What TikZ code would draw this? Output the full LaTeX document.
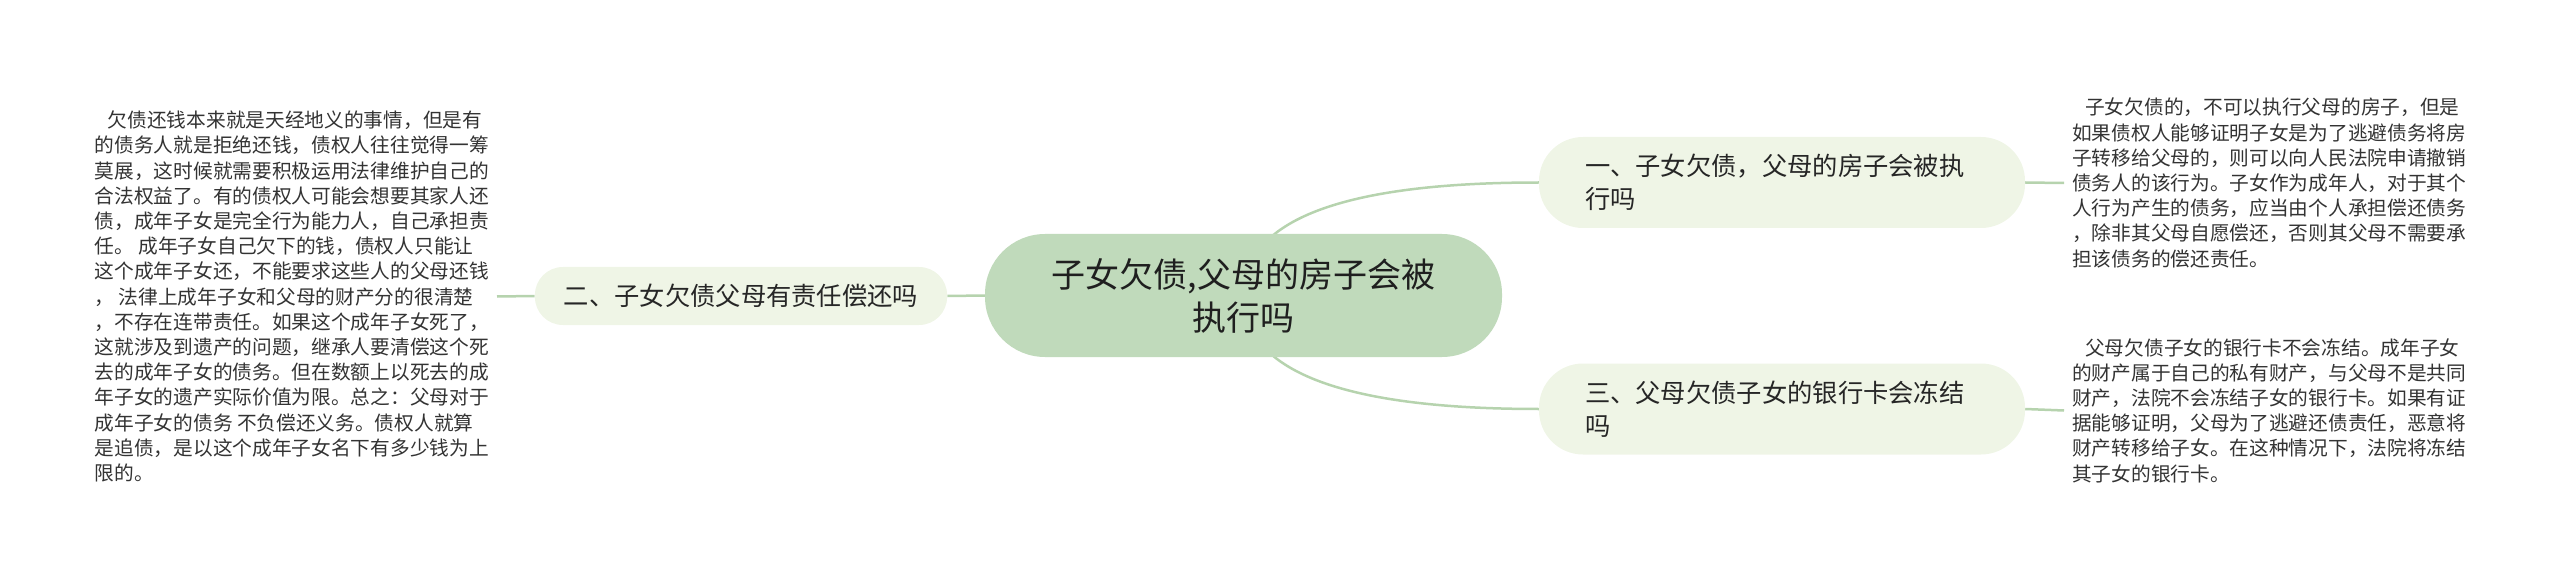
\documentclass[tikz,border=0pt]{standalone}
\usepackage{fontspec}
\setmainfont{Noto Sans CJK SC}
\usetikzlibrary{backgrounds}

\definecolor{rootgreen}{HTML}{C0DABB}
\definecolor{branchgreen}{HTML}{EFF5E6}
\definecolor{linkgreen}{HTML}{B6D3AE}
\definecolor{inkgray}{HTML}{333333}

\tikzset{
    rootbox/.style={fill=rootgreen, rounded corners=60pt, minimum width=517pt, minimum height=123pt,
        align=center, text=black!88, font=\fontsize{34}{43}\selectfont},
    branchbox/.style={fill=branchgreen, inner ysep=4pt, text=black!85, font=\fontsize{25.3}{33}\selectfont},
    leafbox/.style={inner xsep=8pt, inner ysep=0pt, align=left, text=inkgray, font=\fontsize{19.7}{25.2}\selectfont},
    link/.style={draw=linkgreen, line width=2.5pt},
}

\begin{document}
\begin{tikzpicture}[x=1pt, y=-1pt]
    \useasboundingbox (0,0) rectangle (2560,580);
    % centre
    \node[rootbox] (root) at (1243.5,295.5) {子女欠债,父母的房子会被\\执行吗};
    % branches
    \node[branchbox, rounded corners=44pt, text width=394pt, inner xsep=46pt, minimum height=91pt, align=left]
        (one) at (1782,182.5) {一、子女欠债，父母的房子会被执\\行吗};
    \node[branchbox, rounded corners=28pt, inner xsep=29pt, minimum height=58pt]
        (two) at (741,296) {二、子女欠债父母有责任偿还吗};
    \node[branchbox, rounded corners=44pt, text width=394pt, inner xsep=46pt, minimum height=91pt, align=left]
        (three) at (1782,409) {三、父母欠债子女的银行卡会冻结\\吗};
    % leaves
    \node[leafbox, anchor=west] (leafone) at (2064,183) {\hspace*{13pt}子女欠债的，不可以执行父母的房子，但是\\
        如果债权人能够证明子女是为了逃避债务将房\\
        子转移给父母的，则可以向人民法院申请撤销\\
        债务人的该行为。子女作为成年人，对于其个\\
        人行为产生的债务，应当由个人承担偿还债务\\
        ，除非其父母自愿偿还，否则其父母不需要承\\
        担该债务的偿还责任。};
    \node[leafbox, anchor=east] (leaftwo) at (497,296.5) {\hspace*{13pt}欠债还钱本来就是天经地义的事情，但是有\\
        的债务人就是拒绝还钱，债权人往往觉得一筹\\
        莫展，这时候就需要积极运用法律维护自己的\\
        合法权益了。有的债权人可能会想要其家人还\\
        债，成年子女是完全行为能力人，自己承担责\\
        任。 成年子女自己欠下的钱，债权人只能让\\
        这个成年子女还，不能要求这些人的父母还钱\\
        ， 法律上成年子女和父母的财产分的很清楚\\
        ，不存在连带责任。如果这个成年子女死了，\\
        这就涉及到遗产的问题，继承人要清偿这个死\\
        去的成年子女的债务。但在数额上以死去的成\\
        年子女的遗产实际价值为限。总之：父母对于\\
        成年子女的债务 不负偿还义务。债权人就算\\
        是追债，是以这个成年子女名下有多少钱为上\\
        限的。};
    \node[leafbox, anchor=west] (leafthree) at (2064,410.5) {\hspace*{13pt}父母欠债子女的银行卡不会冻结。成年子女\\
        的财产属于自己的私有财产，与父母不是共同\\
        财产，法院不会冻结子女的银行卡。如果有证\\
        据能够证明，父母为了逃避还债责任，恶意将\\
        财产转移给子女。在这种情况下，法院将冻结\\
        其子女的银行卡。};
    % connectors
    \begin{scope}[on background layer]
        \draw[link] (root.center) .. controls +(0,-75) and +(-198,0) .. (one.west);
        \draw[link] (root.center) .. controls +(0,75) and +(-198,0) .. (three.west);
        \draw[link] (root.west) -- (two.east);
        \draw[link] (two.west) -- (leaftwo.east);
        \draw[link] (one.east) -- (leafone.west);
        \draw[link] (three.east) -- (leafthree.west);
    \end{scope}
\end{tikzpicture}
\end{document}
